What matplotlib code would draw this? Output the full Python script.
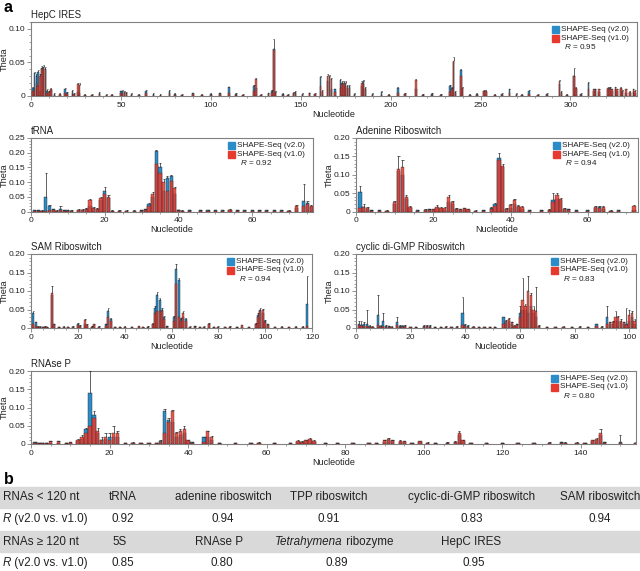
import matplotlib
matplotlib.use('Agg')
import matplotlib.pyplot as plt
from matplotlib.patches import Rectangle
from matplotlib.ticker import MultipleLocator, FixedLocator, FuncFormatter

plt.rcParams['font.family'] = ['Liberation Sans', 'DejaVu Sans']
plt.rcParams['mathtext.fontset'] = 'custom'
plt.rcParams['mathtext.it'] = 'Liberation Sans:italic'
plt.rcParams['mathtext.rm'] = 'Liberation Sans'

W, H = 640, 571
BLUE = '#2b8cc8'
RED = '#e63a2e'
EDGE = '#2a2a2a'
AXC = '#808080'

# reactivity bars per nucleotide: (nucleotide, theta v2.0, theta v1.0, error bar top)
hepc_bars = [
    (1, .012, .008, .014), (2, .034, .010, .036), (3, .030, .020, .033), (4, .036, .015, .038),
    (5, .008, .030, .032), (6, .042, .040, .045), (7, .043, .041, .046), (8, .040, .040, .043),
    (9, .008, .005, .010), (10, .005, .006, .008), (11, .009, .010, .012), (13, .003, .002, .004),
    (16, .002, .003, .004), (19, .010, .004, .012), (20, .004, .003, .006), (23, .008, .003, .009),
    (24, .003, .003, .005), (26, .006, .018, .019), (27, .004, .017, .019), (30, .002, .002, .003),
    (34, .002, .001, .003), (38, .005, .003, .006), (42, .002, .002, .003), (45, .002, .001, .003),
    (50, .007, .004, .008), (51, .008, .005, .009), (52, .006, .006, .008), (53, .004, .005, .006),
    (56, .003, .002, .004), (60, .002, .002, .003), (64, .008, .004, .009), (68, .003, .002, .004),
    (72, .002, .002, .003), (77, .008, .005, .009), (80, .003, .002, .004), (84, .002, .002, .003),
    (90, .004, .003, .005), (95, .002, .002, .003), (100, .003, .002, .004), (105, .004, .003, .005),
    (110, .013, .004, .014), (114, .003, .002, .004), (118, .002, .002, .003), (124, .015, .008, .017),
    (125, .012, .026, .027), (128, .002, .002, .003), (132, .004, .003, .005), (134, .008, .005, .009),
    (135, .070, .068, .085), (136, .006, .004, .007), (140, .003, .002, .004), (143, .002, .002, .003),
    (146, .005, .004, .006), (147, .006, .004, .007), (151, .003, .002, .004), (155, .004, .004, .005),
    (158, .003, .003, .004), (161, .028, .015, .030), (162, .006, .008, .009), (165, .022, .030, .032),
    (166, .028, .029, .031), (167, .010, .025, .027), (169, .010, .006, .011), (172, .024, .012, .026),
    (173, .020, .018, .022), (174, .018, .020, .022), (175, .020, .015, .022), (176, .012, .015, .016),
    (177, .015, .012, .016), (180, .003, .002, .004), (184, .015, .020, .022), (185, .022, .018, .024),
    (186, .010, .012, .013), (190, .003, .002, .004), (195, .006, .002, .007), (199, .002, .002, .003),
    (204, .012, .004, .013), (208, .003, .003, .004), (214, .010, .024, .025), (218, .002, .002, .003),
    (223, .003, .002, .004), (228, .002, .002, .003), (233, .015, .006, .017), (234, .012, .010, .013),
    (235, .050, .052, .058), (236, .006, .005, .007), (239, .038, .030, .040), (240, .010, .012, .014),
    (244, .002, .002, .003), (248, .003, .002, .004), (252, .007, .008, .009), (253, .006, .008, .009),
    (258, .002, .002, .003), (262, .003, .002, .004), (266, .010, .004, .011), (270, .003, .002, .004),
    (273, .002, .002, .003), (277, .008, .003, .009), (282, .002, .002, .003), (287, .003, .002, .004),
    (294, .018, .022, .024), (295, .005, .006, .007), (298, .002, .002, .003), (302, .030, .030, .042),
    (303, .010, .012, .013), (306, .003, .002, .004), (310, .020, .010, .021), (313, .008, .010, .011),
    (314, .010, .008, .011), (316, .006, .010, .011), (321, .010, .012, .013), (322, .012, .011, .013),
    (323, .008, .010, .011), (325, .010, .013, .014), (326, .008, .010, .011), (328, .010, .012, .013),
    (329, .006, .008, .009), (331, .004, .010, .011), (333, .005, .006, .007), (335, .006, .010, .011),
    (336, .004, .008, .009),
]

trna_bars = [
    (1, .005, .003, .006), (2, .004, .003, .005), (3, .003, .002, .004), (4, .048, .003, .130),
    (5, .020, .006, .022), (6, .008, .004, .009), (7, .003, .002, .004), (8, .010, .006, .020),
    (9, .004, .003, .005), (10, .004, .003, .005), (11, .003, .002, .004), (13, .006, .004, .008),
    (14, .005, .006, .008), (15, .010, .008, .012), (16, .020, .040, .042), (17, .012, .012, .014),
    (18, .008, .010, .011), (19, .040, .045, .048), (20, .070, .060, .085), (21, .045, .050, .055),
    (22, .003, .003, .004), (24, .003, .002, .004), (26, .003, .003, .004), (28, .003, .002, .004),
    (30, .004, .003, .005), (31, .008, .004, .010), (32, .025, .020, .030), (33, .050, .060, .065),
    (34, .205, .160, .210), (35, .150, .130, .165), (36, .070, .100, .110), (37, .115, .070, .120),
    (38, .120, .105, .125), (39, .060, .080, .085), (40, .005, .004, .006), (41, .003, .002, .004),
    (43, .004, .003, .005), (46, .005, .003, .006), (48, .004, .002, .005), (50, .004, .003, .005),
    (52, .005, .003, .006), (54, .006, .004, .008), (56, .005, .003, .006), (58, .004, .003, .006),
    (60, .004, .002, .005), (62, .005, .003, .006), (64, .004, .003, .005), (66, .005, .002, .006),
    (68, .004, .003, .005), (70, .003, .002, .004), (72, .012, .020, .022), (74, .035, .020, .095),
    (75, .030, .025, .035), (76, .015, .020, .022),
]

adenine_bars = [
    (1, .053, .010, .070), (2, .012, .012, .020), (3, .008, .010, .012), (4, .003, .002, .004),
    (6, .003, .002, .004), (8, .002, .002, .003), (10, .020, .025, .028), (11, .110, .115, .150),
    (12, .100, .120, .140), (13, .035, .040, .045), (14, .010, .012, .014), (16, .003, .002, .004),
    (18, .005, .004, .006), (19, .006, .005, .008), (20, .005, .006, .008), (21, .010, .012, .018),
    (22, .008, .010, .012), (23, .004, .010, .012), (24, .025, .040, .045), (25, .020, .025, .028),
    (26, .006, .008, .010), (27, .005, .006, .008), (28, .008, .009, .010), (29, .005, .006, .007),
    (31, .002, .002, .003), (33, .003, .002, .004), (35, .010, .008, .012), (36, .020, .015, .022),
    (37, .145, .140, .160), (38, .120, .125, .130), (39, .008, .006, .010), (40, .010, .018, .020),
    (41, .020, .030, .035), (42, .012, .015, .017), (43, .008, .012, .014), (45, .003, .002, .004),
    (48, .003, .002, .004), (50, .005, .004, .006), (51, .030, .025, .050), (52, .035, .045, .050),
    (53, .030, .035, .038), (54, .008, .006, .010), (55, .006, .005, .008), (57, .003, .002, .004),
    (60, .003, .002, .004), (62, .010, .013, .015), (63, .012, .010, .014), (64, .008, .013, .015),
    (66, .002, .002, .003), (68, .003, .002, .004), (72, .005, .015, .017),
]

sam_bars = [
    (1, .040, .010, .045), (2, .015, .005, .017), (3, .004, .003, .005), (4, .004, .003, .005),
    (5, .003, .003, .004), (6, .004, .003, .005), (7, .003, .002, .004), (9, .090, .095, .113),
    (10, .010, .008, .012), (12, .003, .002, .004), (14, .004, .003, .005), (16, .003, .003, .004),
    (18, .004, .002, .005), (20, .012, .008, .014), (21, .006, .005, .008), (23, .010, .022, .024),
    (24, .006, .008, .010), (26, .004, .003, .005), (27, .008, .010, .012), (29, .004, .003, .005),
    (32, .010, .006, .012), (33, .045, .030, .053), (34, .025, .020, .028), (36, .003, .002, .004),
    (38, .003, .002, .004), (40, .004, .003, .005), (43, .003, .002, .004), (46, .003, .005, .006),
    (48, .003, .002, .004), (50, .004, .003, .005), (52, .010, .012, .014), (53, .055, .040, .060),
    (54, .090, .045, .098), (55, .075, .045, .080), (56, .050, .045, .055), (57, .030, .025, .032),
    (58, .005, .004, .006), (61, .030, .020, .033), (62, .160, .120, .172), (63, .130, .030, .135),
    (64, .025, .020, .028), (65, .030, .040, .045), (66, .025, .020, .028), (68, .004, .003, .005),
    (70, .005, .003, .006), (72, .003, .002, .004), (74, .004, .003, .005), (76, .012, .010, .014),
    (78, .003, .002, .004), (80, .004, .003, .005), (83, .003, .002, .004), (85, .004, .003, .005),
    (88, .003, .002, .004), (90, .004, .008, .009), (93, .003, .002, .004), (96, .012, .010, .014),
    (97, .035, .030, .040), (98, .050, .045, .053), (99, .040, .050, .052), (100, .020, .015, .022),
    (101, .010, .008, .012), (104, .003, .002, .004), (107, .004, .003, .005), (110, .003, .002, .004),
    (113, .004, .003, .005), (116, .004, .003, .005), (118, .065, .005, .140),
]

cdigmp_bars = [
    (1, .010, .008, .020), (2, .008, .006, .018), (3, .010, .006, .015), (4, .010, .005, .050),
    (5, .005, .004, .007), (6, .004, .003, .006), (8, .035, .008, .088), (9, .006, .004, .008),
    (10, .020, .005, .040), (11, .005, .004, .007), (12, .005, .003, .006), (13, .004, .003, .005),
    (15, .015, .008, .030), (16, .006, .004, .008), (17, .005, .004, .007), (18, .006, .005, .008),
    (20, .003, .002, .004), (22, .003, .002, .004), (25, .006, .004, .008), (26, .006, .005, .008),
    (27, .005, .004, .007), (29, .003, .002, .004), (31, .003, .002, .004), (33, .004, .003, .005),
    (35, .003, .002, .004), (37, .004, .003, .005), (39, .040, .008, .083), (40, .008, .005, .010),
    (41, .005, .004, .007), (43, .004, .003, .005), (45, .003, .002, .004), (47, .003, .002, .004),
    (49, .003, .002, .004), (51, .003, .002, .004), (54, .030, .010, .030), (55, .015, .020, .022),
    (56, .020, .025, .027), (57, .010, .015, .017), (58, .005, .005, .007), (59, .010, .008, .012),
    (60, .040, .030, .060), (61, .050, .075, .135), (62, .050, .060, .065), (63, .040, .100, .140),
    (64, .060, .090, .095), (65, .040, .050, .060), (66, .030, .045, .110), (67, .005, .005, .007),
    (70, .003, .002, .004), (73, .003, .002, .004), (76, .004, .003, .005), (79, .003, .002, .004),
    (82, .004, .003, .005), (85, .003, .002, .004), (88, .010, .006, .012), (90, .004, .003, .005),
    (92, .030, .010, .060), (93, .010, .015, .017), (94, .012, .015, .018), (95, .020, .030, .045),
    (96, .020, .030, .033), (97, .015, .020, .023), (98, .010, .015, .017), (99, .010, .008, .055),
    (100, .020, .035, .050), (101, .030, .040, .045), (102, .010, .020, .023), (103, .008, .010, .058),
]

rnasep_bars = [
    (1, .005, .003, .006), (2, .003, .003, .004), (3, .003, .002, .004), (4, .002, .003, .004),
    (5, .004, .008, .009), (7, .004, .008, .009), (9, .002, .002, .003), (10, .004, .005, .006),
    (12, .008, .010, .015), (13, .015, .020, .025), (14, .040, .030, .045), (15, .140, .050, .200),
    (16, .080, .070, .090), (17, .030, .035, .045), (18, .010, .012, .020), (19, .015, .020, .030),
    (20, .020, .012, .030), (21, .020, .030, .050), (22, .020, .030, .035), (24, .003, .002, .004),
    (26, .004, .003, .005), (28, .003, .002, .004), (30, .003, .002, .004), (32, .003, .002, .004),
    (33, .008, .005, .010), (34, .090, .030, .095), (35, .065, .060, .070), (36, .060, .090, .092),
    (37, .020, .030, .033), (38, .025, .035, .040), (39, .030, .040, .048), (40, .008, .010, .012),
    (41, .005, .004, .006), (44, .018, .005, .020), (45, .020, .035, .035), (46, .010, .020, .022),
    (48, .002, .002, .003), (52, .003, .002, .004), (56, .003, .002, .004), (58, .004, .003, .005),
    (62, .003, .002, .004), (66, .003, .002, .004), (68, .006, .008, .010), (69, .005, .006, .008),
    (70, .008, .010, .012), (71, .010, .015, .017), (72, .006, .008, .010), (75, .002, .002, .003),
    (78, .003, .002, .004), (82, .003, .002, .004), (86, .002, .002, .003), (88, .003, .002, .004),
    (90, .006, .010, .012), (91, .010, .015, .017), (92, .008, .010, .012), (94, .006, .008, .010),
    (95, .005, .008, .009), (97, .003, .002, .004), (99, .005, .008, .009), (101, .003, .004, .005),
    (103, .003, .002, .004), (106, .003, .004, .005), (108, .005, .006, .008), (109, .025, .030, .036),
    (110, .008, .010, .012), (112, .003, .002, .004), (116, .002, .002, .003), (120, .003, .002, .004),
    (124, .002, .002, .003), (128, .003, .002, .004), (132, .004, .003, .005), (135, .005, .004, .006),
    (136, .004, .003, .005), (139, .004, .003, .006), (141, .003, .002, .004), (143, .008, .010, .012),
    (144, .010, .015, .017), (145, .025, .030, .040), (146, .005, .004, .006), (150, .005, .004, .025),
    (154, .004, .003, .005),
]

# table in panel b
small_names = ['tRNA', 'adenine riboswitch', 'TPP riboswitch', 'cyclic-di-GMP riboswitch', 'SAM riboswitch']
small_r = ['0.92', '0.94', '0.91', '0.83', '0.94']
large_names = ['5S', 'RNAse P', 'Tetrahymena ribozyme', 'HepC IRES']
large_r = ['0.85', '0.80', '0.89', '0.95']

# panel name, data, R, pixel box (left, right, top, bottom), xlim, ylim, x major, x minor, y ticks
panels = [
    ('HepC IRES', hepc_bars, '0.95', (31, 637, 22, 96), 337, 0.11, 50, 10, [0, 0.05, 0.10]),
    ('tRNA', trna_bars, '0.92', (31, 313, 138, 211.5), 76.5, 0.25, 20, 5, [0, 0.05, 0.10, 0.15, 0.20, 0.25]),
    ('Adenine Riboswitch', adenine_bars, '0.94', (356, 638, 138, 211.5), 73, 0.20, 20, 5, [0, 0.05, 0.10, 0.15, 0.20]),
    ('SAM Riboswitch', sam_bars, '0.94', (31, 312, 254, 328), 120, 0.20, 20, 5, [0, 0.05, 0.10, 0.15, 0.20]),
    ('cyclic di-GMP Riboswitch', cdigmp_bars, '0.83', (356, 636, 254, 328), 102.5, 0.20, 20, 5, [0, 0.05, 0.10, 0.15, 0.20]),
    ('RNAse P', rnasep_bars, '0.80', (31, 636, 371, 444), 154, 0.20, 20, 5, [0, 0.05, 0.10, 0.15, 0.20]),
]

fig = plt.figure(figsize=(6.4, 5.71), dpi=100)


def fx(px):
    return px / W


def fy(py):
    return 1 - py / H


for name, bars, r, box, xmax, ymax, xmaj, xmin, yt in panels:
    x0, x1, top, bot = box
    wpx, hpx = x1 - x0, bot - top
    ax = fig.add_axes([fx(x0), fy(bot), wpx / W, hpx / H])
    pos = [b[0] for b in bars]
    v2 = [b[1] for b in bars]
    v1 = [b[2] for b in bars]
    err = [b[3] for b in bars]
    ax.bar(pos, v2, width=0.85, color=BLUE, edgecolor=EDGE, linewidth=0.3, zorder=2)
    ax.bar(pos, v1, width=0.85, color=RED, alpha=0.85, edgecolor=EDGE, linewidth=0.3, zorder=3)
    tops = [max(a, b) for a, b in zip(v2, v1)]
    ax.vlines(pos, tops, err, color='#222222', linewidth=0.5, zorder=4)
    ax.hlines(err, [p - 0.3 for p in pos], [p + 0.3 for p in pos], color='#222222', linewidth=0.5, zorder=4)

    ax.set_xlim(0, xmax)
    ax.set_ylim(0, ymax)
    ax.xaxis.set_major_locator(MultipleLocator(xmaj))
    ax.xaxis.set_minor_locator(MultipleLocator(xmin))
    ax.yaxis.set_major_locator(FixedLocator(yt))
    ax.yaxis.set_minor_locator(MultipleLocator(0.01))
    ax.yaxis.set_major_formatter(FuncFormatter(lambda v, p: '0' if v == 0 else f'{v:.2f}'))
    ax.tick_params(which='major', length=3, width=0.6, color=AXC, labelsize=6.1, pad=1.0, labelcolor='#222222')
    ax.tick_params(which='minor', length=1.5, width=0.5, color=AXC)
    for s in ax.spines.values():
        s.set_color(AXC)
        s.set_linewidth(0.8)

    ax.set_ylabel('Theta', fontsize=6.6, color='#222222', va='center')
    ax.yaxis.set_label_coords(-26.5 / wpx, 0.5)
    ax.set_xlabel('Nucleotide', fontsize=6.5, color='#222222', va='center')
    ax.xaxis.set_label_coords(0.5, -18.5 / hpx)
    ax.text(0, 1 + 7 / hpx, name, transform=ax.transAxes, ha='left', va='center', fontsize=7, color='#222222')

    # legend
    rows = [top + 7.3, top + 16, top + 24.5]
    fig.patches.append(Rectangle((fx(x1 - 85), fy(rows[0] + 3.5)), 7 / W, 7 / H, color=BLUE, transform=fig.transFigure))
    fig.patches.append(Rectangle((fx(x1 - 85), fy(rows[1] + 3.5)), 7 / W, 7 / H, color=RED, transform=fig.transFigure))
    fig.text(fx(x1 - 76), fy(rows[0]), 'SHAPE-Seq (v2.0)', fontsize=5.9, va='center', color='#222222')
    fig.text(fx(x1 - 76), fy(rows[1]), 'SHAPE-Seq (v1.0)', fontsize=5.9, va='center', color='#222222')
    fig.text(fx(x1 - 73), fy(rows[2]), '$R$ = ' + r, fontsize=5.9, va='center', color='#222222')

fig.text(fx(4), fy(8), 'a', fontsize=11.5, fontweight='bold', va='center')
fig.text(fx(4), fy(479), 'b', fontsize=11.5, fontweight='bold', va='center')

# panel b table
for ytop, ybot in [(487, 508), (531, 552)]:
    fig.patches.append(Rectangle((0, fy(ybot)), 1, (ybot - ytop) / H, color='#d9d9d9', transform=fig.transFigure, zorder=0))

TFONT = ['Liberation Sans', 'DejaVu Sans']
TSIZE = 8.4
renderer = fig.canvas.get_renderer()


def mixed(x, y, parts, center=False):
    # parts: list of (text, style)
    widths = []
    for txt, st in parts:
        t = fig.text(0, 0, txt, family=TFONT, fontsize=TSIZE, style=st)
        widths.append(t.get_window_extent(renderer).width)
        t.remove()
    total = sum(widths)
    cur = x - total / 2 if center else x
    for (txt, st), w in zip(parts, widths):
        fig.text(fx(cur), fy(y), txt, family=TFONT, fontsize=TSIZE, style=st, va='center', color='#222222')
        cur += w


mixed(3, 497, [('RNAs < 120 nt', 'normal')])
mixed(3, 519, [('R', 'italic'), (' (v2.0 vs. v1.0)', 'normal')])
mixed(3, 542, [('RNAs \u2265 120 nt', 'normal')])
mixed(3, 563, [('R', 'italic'), (' (v2.0 vs. v1.0)', 'normal')])

small_cols = [123, 223, 329, 472, 600]
for cx, nm, rv in zip(small_cols, small_names, small_r):
    mixed(cx, 497, [(nm, 'normal')], center=True)
    mixed(cx, 519, [(rv, 'normal')], center=True)

large_cols = [120, 219, 334, 471]
for cx, nm, rv in zip(large_cols, large_names, large_r):
    if nm.startswith('Tetrahymena'):
        mixed(cx, 542, [('Tetrahymena', 'italic'), (' ribozyme', 'normal')], center=True)
    else:
        mixed(cx, 542, [(nm, 'normal')], center=True)
    mixed(cx + 3, 563, [(rv, 'normal')], center=True)

fig.savefig('out.png', dpi=100)
